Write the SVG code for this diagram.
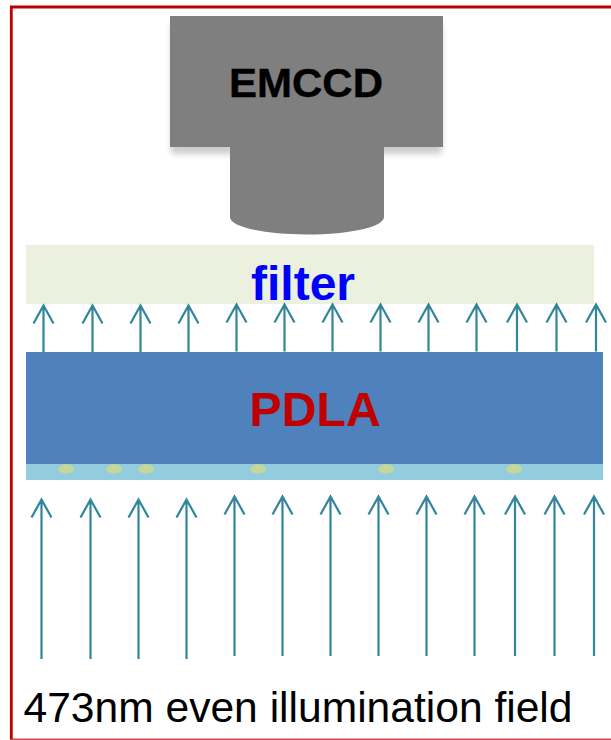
<svg xmlns="http://www.w3.org/2000/svg" width="611" height="740" viewBox="0 0 611 740">
<style>
text{font-family:"Liberation Sans",Arial,sans-serif}
.b{font-weight:bold;text-anchor:middle}
.a{fill:none;stroke:#31859c;stroke-width:2.200}
.s{fill:#c3d69b}
</style>
<defs>
<filter id="sh" x="-10%" y="-10%" width="120%" height="130%"><feGaussianBlur stdDeviation="3"/></filter>
<path id="ar" d="M-10 18L0 0L10 18M0 0V47"/>
</defs>
<rect width="611" height="740" fill="#fff"/>
<path id="border" d="M611 7H11.300V739" fill="none" stroke="#c00000" stroke-width="2.800"/>
<path id="border-bottom" d="M10 739.300H611" fill="none" stroke="#c00000" stroke-width="1.400" opacity=".7"/>
<g id="emccd">
<rect x="171" y="24" width="271" height="130" fill="#000" opacity=".2" filter="url(#sh)"/>
<path d="M230 140H384V217C384 227 350 234.500 307 234.500S230 227 230 217Z" fill="#7f7f7f"/>
<rect x="170" y="16" width="273" height="131" fill="#7f7f7f"/>
<text class="b" x="306" y="97" font-size="41.500" textLength="154" lengthAdjust="spacingAndGlyphs" fill="#000" stroke="#000" stroke-width=".4">EMCCD</text>
</g>
<g id="filter">
<rect x="26" y="245" width="568" height="59" fill="#ebf0df"/>
<text class="b" x="303" y="299.500" font-size="48" fill="#0000ff">filter</text>
</g>
<g id="connectors" class="a">
<use href="#ar" x="43.500" y="305.500"/><use href="#ar" x="92.500" y="305.500"/><use href="#ar" x="140.500" y="305.500"/><use href="#ar" x="188.500" y="305.500"/>
<use href="#ar" x="236.500" y="304.500"/><use href="#ar" x="284.500" y="304.500"/><use href="#ar" x="332.500" y="304.500"/><use href="#ar" x="380.500" y="304.500"/><use href="#ar" x="428.500" y="304.500"/><use href="#ar" x="476.500" y="304.500"/><use href="#ar" x="517" y="304.500"/><use href="#ar" x="556.500" y="304.500"/><use href="#ar" x="596" y="304.500"/>
<path d="M31.500 517.500L41.500 499.500L51.500 517.500M41.500 499.500V659"/>
<path d="M80.500 517.500L90.500 499.500L100.500 517.500M90.500 499.500V659"/>
<path d="M128.500 517.500L138.500 499.500L148.500 517.500M138.500 499.500V659"/>
<path d="M176.500 517.500L186.500 499.500L196.500 517.500M186.500 499.500V659"/>
<path d="M224.500 514.500L234.500 496.500L244.500 514.500M234.500 496.500V656"/>
<path d="M272.500 514.500L282.500 496.500L292.500 514.500M282.500 496.500V656"/>
<path d="M320.500 514.500L330.500 496.500L340.500 514.500M330.500 496.500V656"/>
<path d="M368.500 514.500L378.500 496.500L388.500 514.500M378.500 496.500V656"/>
<path d="M416.500 514.500L426.500 496.500L436.500 514.500M426.500 496.500V656"/>
<path d="M464.500 514.500L474.500 496.500L484.500 514.500M474.500 496.500V656"/>
<path d="M505 514.500L515 496.500L525 514.500M515 496.500V656"/>
<path d="M544.500 514.500L554.500 496.500L564.500 514.500M554.500 496.500V656"/>
<path d="M584 514.500L594 496.500L604 514.500M594 496.500V656"/>
</g>
<g id="pdla">
<rect x="26" y="352" width="577" height="112" fill="#4f81bd"/>
<text class="b" x="315" y="426" font-size="48.300" fill="#c00000">PDLA</text>
</g>
<g id="sample">
<rect x="26" y="464" width="577" height="16" fill="#93cddd"/>
<ellipse class="s" cx="66.300" cy="469" rx="8" ry="4.700"/>
<ellipse class="s" cx="114.300" cy="469" rx="8" ry="4.700"/>
<ellipse class="s" cx="146.300" cy="469" rx="8" ry="4.700"/>
<ellipse class="s" cx="258.300" cy="469" rx="8" ry="4.700"/>
<ellipse class="s" cx="386.300" cy="469" rx="8" ry="4.700"/>
<ellipse class="s" cx="514.300" cy="469" rx="8" ry="4.700"/>
</g>
<text id="caption" x="23.500" y="722" font-size="42" textLength="549" lengthAdjust="spacingAndGlyphs" fill="#000">473nm even illumination field</text>
</svg>
